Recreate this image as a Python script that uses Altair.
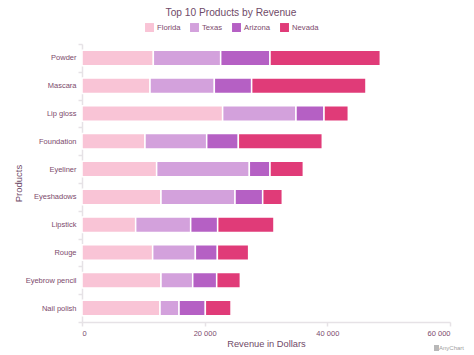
import altair as alt
import pandas as pd

products = ["Powder", "Mascara", "Lip gloss", "Foundation", "Eyeliner", "Eyeshadows", "Lipstick", "Rouge", "Eyebrow pencil", "Nail polish"]
states = ["Florida", "Texas", "Arizona", "Nevada"]
colors = ["#F9C4D6", "#D3A1DC", "#B560C4", "#E03B78"]
florida = [11630, 11090, 22930, 10270, 12170, 12880, 8750, 11520, 12880, 12720]
texas = [10980, 10485, 11960, 10060, 15110, 12070, 8970, 6960, 5170, 3100]
arizona = [8040, 6085, 4570, 5160, 3370, 4510, 4400, 3590, 3910, 4290]
nevada = [17990, 18640, 3960, 13690, 5440, 3200, 9180, 5100, 3860, 4190]

rows = []
for i, (s, vals) in enumerate(zip(states, [florida, texas, arizona, nevada])):
    for p, v in zip(products, vals):
        rows.append({"product": p, "state": s, "revenue": v, "order": i})
df = pd.DataFrame(rows)

TEXT = "#7C4A6C"
TITLE = "#6F4A68"
LINE = "#E6E2E6"
FONT = "Liberation Sans"

bars = alt.Chart(df).mark_bar(stroke="white", strokeWidth=1.5, size=15.5).encode(
    x=alt.X("revenue:Q", stack="zero",
            scale=alt.Scale(domain=[0, 60000], nice=False),
            axis=alt.Axis(title="Revenue in Dollars", values=[0, 20000, 40000, 60000],
                          labelExpr="replace(format(datum.value, ','), ',', ' ')",
                          grid=False, domainColor=LINE, domainWidth=1.5, tickColor=LINE, tickWidth=1.5,
                          tickSize=4, labelColor=TEXT, labelFontSize=7.5, labelFont=FONT, labelPadding=3,
                          titleColor=TITLE, titleFontSize=9.3, titleFont=FONT, titleFontWeight="normal",
                          titlePadding=3)),
    y=alt.Y("product:N", sort=products,
            scale=alt.Scale(paddingInner=0, paddingOuter=0),
            axis=alt.Axis(title="Products", grid=False, domainColor=LINE, domainWidth=1.5, tickColor=LINE,
                          tickWidth=1.5, tickSize=4, tickBand="extent", labelColor=TEXT, labelFontSize=7.5,
                          labelFont=FONT, labelPadding=2, titleColor=TITLE, titleFontSize=9.5, titleFont=FONT,
                          titleFontWeight="normal", titlePadding=2)),
    color=alt.Color("state:N", scale=alt.Scale(domain=states, range=colors),
                    legend=alt.Legend(title=None, orient="none", direction="horizontal", legendX=63, legendY=-21,
                                      symbolType="square", symbolSize=80, symbolOpacity=1, symbolStrokeWidth=0,
                                      labelFont=FONT, labelFontSize=7.7, labelColor=TEXT, columnPadding=9,
                                      labelOffset=3)),
    order=alt.Order("order:Q"),
)

credit = alt.Chart(pd.DataFrame({"t": ["AnyChart"]})).mark_text(
    align="right", baseline="middle", fontSize=6, font=FONT, color="#A0A0A0"
).encode(x=alt.value(382), y=alt.value(304), text="t:N")

icon = alt.Chart(pd.DataFrame({"t": ["AnyChart"]})).mark_rect(color="#B8B8B8").encode(
    x=alt.value(352), x2=alt.value(357), y=alt.value(301), y2=alt.value(307))

chart = alt.layer(bars, credit, icon).properties(
    width=368, height=278,
    padding={"left": 74, "top": 36, "right": 16, "bottom": 33},
    autosize=alt.AutoSizeParams(type="none"),
    title=alt.TitleParams("Top 10 Products by Revenue", anchor="middle", dx=-35, offset=5, fontSize=10.2,
                          font=FONT, fontWeight="normal", color=TITLE),
).configure_view(stroke=None)

chart.save("out.html", embed_options={"renderer": "svg", "actions": False})
